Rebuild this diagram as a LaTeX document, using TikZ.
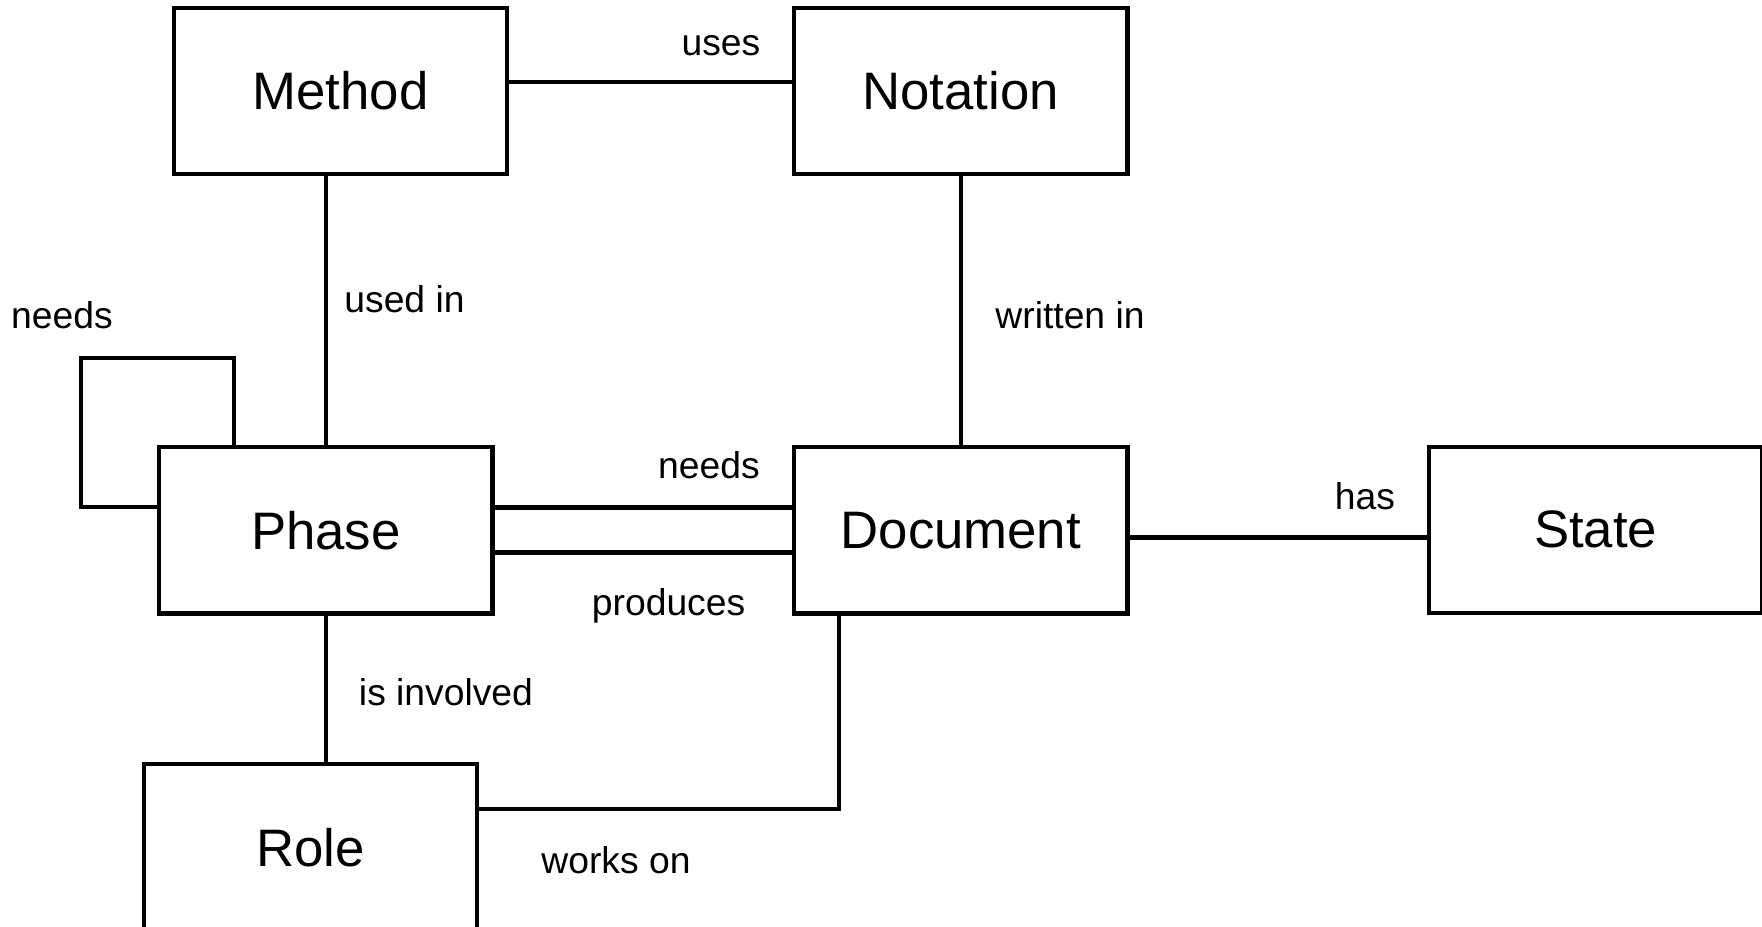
\documentclass[tikz,border=0pt]{standalone}
\usepackage{fontspec}
\setmainfont{Liberation Sans}

\begin{document}
\begin{tikzpicture}[
    x=0.01cm, y=-0.01cm,
    box/.style={
        rectangle,
        minimum width=3.33cm,
        minimum height=1.66cm,
        draw=black, line width=1.2pt,
        inner sep=0pt, outer sep=0pt,
        font=\fontsize{15}{18}\selectfont
    },
    lbl/.style={font=\fontsize{10.6}{12}\selectfont, inner sep=0pt},
    link/.style={line width=1.2pt}
]
\useasboundingbox (0,0) rectangle (1762,927);

% --- entities ---
\node[box] (method) at (340.5,91) {Method};
\node[box] (notation) at (960.8,91) {Notation};
\node[box] (phase) at (325.9,530.4) {Phase};
\node[box] (document) at (960.8,530.4) {Document};
\node[box] (state) at (1595.7,529.8) {State};
\node[box] (role) at (310.7,847.2) {Role};

% --- relations ---
\draw[link] ([yshift=0.09cm]method.east) -- ([yshift=0.09cm]notation.west);
\draw[link] (method.south -| phase.north) -- (phase.north);
\draw[link] (notation) -- (document);

% self loop on phase
\coordinate (loopR) at (234,358);
\coordinate (loopL) at (81,507);
\draw[link] (loopR |- phase.north) -- (loopR) -| (loopL) -- (loopL -| phase.west);

\draw[link] ([yshift=0.23cm]phase.east) -- ([yshift=0.23cm]document.west);
\draw[link] ([yshift=-0.22cm]phase.east) -- ([yshift=-0.22cm]document.west);
\draw[link] ([yshift=-0.07cm]document.east) -- ([yshift=-0.07cm]document.east -| state.west);
\draw[link] (phase.south) -- (phase.south |- role.north);
\draw[link] ([yshift=0.38cm]role.east) -| ([xshift=0.45cm]document.south west);

% --- labels ---
\node[lbl] (usesL) at (721,46) {uses};
\node[lbl] (usedinL) at (404.5,299) {used in};
\node[lbl] (writtenL) at (1070,315) {written in};
\node[lbl] (selfneedsL) at (62,315) {needs};
\node[lbl] (needsL) at (709,465) {needs};
\node[lbl] (producesL) at (668.6,606) {produces};
\node[lbl] (hasL) at (1365,496) {has};
\node[lbl] (involvedL) at (446,692) {is involved};
\node[lbl] (worksL) at (616,860) {works on};

\end{tikzpicture}
\end{document}
